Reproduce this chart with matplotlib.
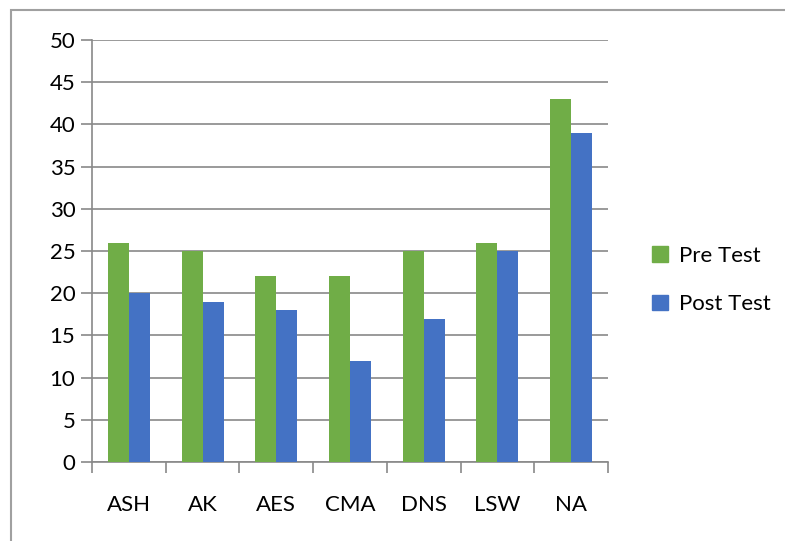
import numpy as np
import matplotlib.pyplot as plt
from matplotlib.patches import Rectangle, Patch

categories = ['ASH', 'AK', 'AES', 'CMA', 'DNS', 'LSW', 'NA']
pre_test = [26, 25, 22, 22, 25, 26, 43]
post_test = [20, 19, 18, 12, 17, 25, 39]
y_ticks = [0, 5, 10, 15, 20, 25, 30, 35, 40, 45, 50]

green = '#70AD47'
blue = '#4472C4'
grid_c = '#898989'

plt.rcParams['font.family'] = ['Lato', 'DejaVu Sans']

fig = plt.figure(figsize=(7.85, 5.41), dpi=100)
W, H = 785, 541
# outer chart border (left and top visible)
fig.add_artist(Rectangle((11 / W, -0.05), 1.2, 1 - 10 / H + 0.05,
                         transform=fig.transFigure, fill=False,
                         edgecolor='#A0A0A0', linewidth=1.5))

ax = fig.add_axes([92 / W, 1 - 462 / H, (608 - 92) / W, (462 - 40) / H])

x = np.arange(len(categories))
bw = 0.285
ax.bar(x - bw / 2, pre_test, bw, color=green, label='Pre Test', zorder=3)
ax.bar(x + bw / 2, post_test, bw, color=blue, label='Post Test', zorder=3)

ax.set_xlim(-0.5, len(categories) - 0.5)
ax.set_ylim(0, 50)
ax.set_yticks(y_ticks)
ax.set_yticklabels([str(v) for v in y_ticks], fontsize=16)
ax.yaxis.grid(True, color=grid_c, linewidth=1.2, zorder=0)
ax.tick_params(axis='y', length=8, color=grid_c, width=1.2, pad=4)

ax.set_xticks(x)
ax.set_xticklabels(categories, fontsize=16)
ax.tick_params(axis='x', length=0, pad=24)
ax.set_xticks(np.arange(len(categories) + 1) - 0.5, minor=True)
ax.tick_params(axis='x', which='minor', length=8, color=grid_c, width=1.2)

for s in ['top', 'right']:
    ax.spines[s].set_visible(False)
for s in ['left', 'bottom']:
    ax.spines[s].set_color(grid_c)
    ax.spines[s].set_linewidth(1.2)

handles = [Patch(color=green), Patch(color=blue)]
fig.legend(handles, ['Pre Test', 'Post Test'], loc='center left',
           bbox_to_anchor=(632 / W, 1 - 280 / H), frameon=False,
           fontsize=16, handlelength=0.7, handleheight=0.7,
           handletextpad=0.5, labelspacing=1.3)

fig.savefig('out.png', dpi=100)
